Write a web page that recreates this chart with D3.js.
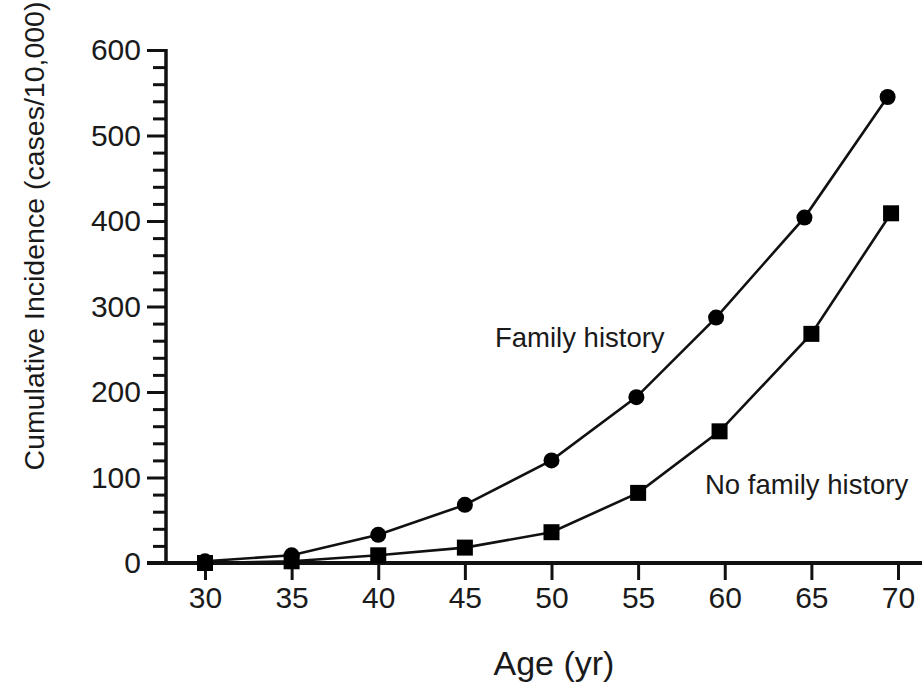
<!DOCTYPE html>
<html>
<head>
<meta charset="utf-8">
<script src="https://cdn.jsdelivr.net/npm/d3@7"></script>
<style>
  body { margin: 0; background: #fff; }
  svg { display: block; font-family: "Liberation Sans", Arial, sans-serif; }
  .tick text { fill: #1a1a1a; }
</style>
</head>
<body>
<svg id="chart" width="922" height="684"></svg>
<script>
// values
const xTicks = [30, 35, 40, 45, 50, 55, 60, 65, 70];
const yTicks = [0, 100, 200, 300, 400, 500, 600];
const yMinor = [20, 40, 60, 80, 120, 140, 160, 180, 220, 240, 260, 280, 320, 340, 360, 380, 420, 440, 460, 480, 520, 540, 560, 580];

const familyAge = [30, 35, 40, 45, 50, 54.9, 59.5, 64.6, 69.4];
const familyVal = [2, 9, 33, 68, 120, 194, 287, 404, 545];
const noFamilyAge = [30, 35, 40, 45, 50, 55, 59.7, 65, 69.6];
const noFamilyVal = [0, 2, 9, 18, 36, 82, 154, 268, 409];

const svg = d3.select("#chart");
const W = 922;

const x = d3.scaleLinear().domain([30, 70]).range([205, 898]);
const y = d3.scaleLinear().domain([0, 600]).range([563, 50]);

// y axis: minor ticks first
svg.append("g")
    .attr("transform", "translate(166,0)")
    .call(d3.axisLeft(y).tickValues(yMinor).tickSize(13).tickFormat(""))
    .call(g => g.select(".domain").remove())
    .call(g => g.selectAll("line").attr("stroke", "#111").attr("stroke-width", 3));

svg.append("g")
    .attr("transform", "translate(166,0)")
    .call(d3.axisLeft(y).tickValues(yTicks).tickSize(19).tickPadding(6))
    .call(g => g.select(".domain").remove())
    .call(g => g.selectAll("line").attr("stroke", "#111").attr("stroke-width", 3))
    .call(g => g.selectAll("text").attr("font-size", 30).attr("font-family", "Liberation Sans, Arial"));

// x axis
svg.append("g")
    .attr("transform", `translate(0,${y(0)})`)
    .call(d3.axisBottom(x).tickValues(xTicks).tickSize(17).tickPadding(7))
    .call(g => g.select(".domain").remove())
    .call(g => g.selectAll("line").attr("stroke", "#111").attr("stroke-width", 3))
    .call(g => g.selectAll("text").attr("font-size", 30).attr("font-family", "Liberation Sans, Arial"));

// axis lines
svg.append("line")
    .attr("x1", 166).attr("x2", 166)
    .attr("y1", y(600) - 1).attr("y2", y(0))
    .attr("stroke", "#111").attr("stroke-width", 3.5);
svg.append("line")
    .attr("x1", 147).attr("x2", W)
    .attr("y1", y(0)).attr("y2", y(0))
    .attr("stroke", "#111").attr("stroke-width", 4);

// series
const line = d3.line().x(d => x(d[0])).y(d => y(d[1]));
const fam = d3.zip(familyAge, familyVal);
const noFam = d3.zip(noFamilyAge, noFamilyVal);

svg.append("path").datum(noFam)
    .attr("d", line).attr("fill", "none")
    .attr("stroke", "#111").attr("stroke-width", 2.6);
svg.append("path").datum(fam)
    .attr("d", line).attr("fill", "none")
    .attr("stroke", "#111").attr("stroke-width", 2.6);

const sq = 16;
svg.selectAll("rect.sq").data(noFam).enter().append("rect")
    .attr("class", "sq")
    .attr("x", d => x(d[0]) - sq / 2)
    .attr("y", d => y(d[1]) - sq / 2)
    .attr("width", sq).attr("height", sq)
    .attr("fill", "#000");

svg.selectAll("circle.dot").data(fam).enter().append("circle")
    .attr("class", "dot")
    .attr("cx", d => x(d[0]))
    .attr("cy", d => y(d[1]))
    .attr("r", 8)
    .attr("fill", "#000");

// labels
svg.append("text")
    .attr("x", 495).attr("y", 347)
    .attr("font-size", 27.5)
    .attr("fill", "#1a1a1a")
    .text("Family history");

svg.append("text")
    .attr("x", 705).attr("y", 494)
    .attr("font-size", 27.5)
    .attr("fill", "#1a1a1a")
    .text("No family history");

svg.append("text")
    .attr("x", 554).attr("y", 675)
    .attr("text-anchor", "middle")
    .attr("font-size", 34)
    .attr("fill", "#1a1a1a")
    .text("Age (yr)");

svg.append("text")
    .attr("transform", "translate(44,236) rotate(-90)")
    .attr("text-anchor", "middle")
    .attr("font-size", 28.5)
    .attr("fill", "#1a1a1a")
    .text("Cumulative Incidence (cases/10,000)");
</script>
</body>
</html>
